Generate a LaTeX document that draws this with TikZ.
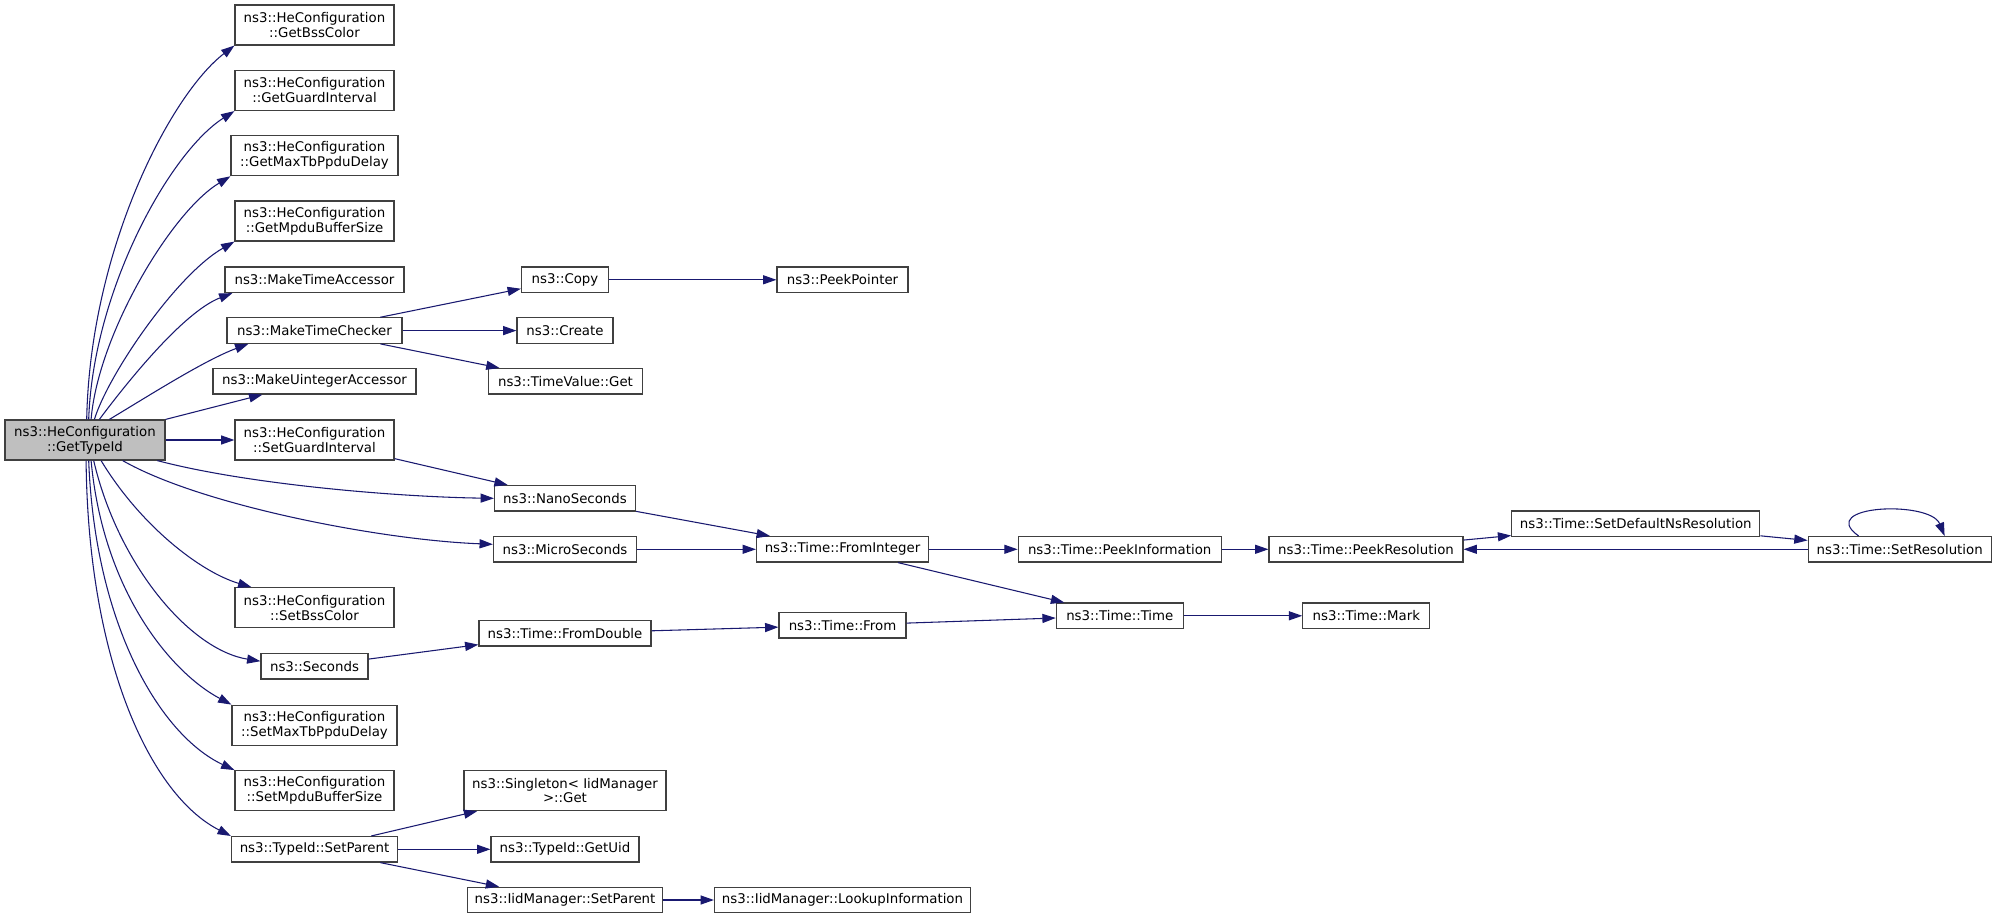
\documentclass[tikz,border=0pt]{standalone}
\usepackage{fontspec}
\setmainfont{DejaVu Sans}
\usetikzlibrary{arrows.meta,calc}
\definecolor{edgec}{HTML}{191970}
\definecolor{nodeb}{HTML}{404040}
\definecolor{rootf}{HTML}{BFBFBF}
\tikzset{
  fn/.style={draw=nodeb, line width=0.9pt, fill=white, inner sep=0pt,
    minimum height=19.1pt, align=center, font=\fontsize{10}{11.2}\selectfont},
  fn2/.style={fn, minimum height=30pt},
  bw/.style={minimum width=#1*0.75pt},
  call/.style={draw=edgec, line width=0.8pt, -{Triangle[length=10pt,width=6.8pt]}},
}
\begin{document}
\begin{tikzpicture}[x=0.75pt,y=-0.75pt]
\fill[white] (0,0) rectangle (1997,919);
\useasboundingbox (0,0) rectangle (1997,919);

% column 1
\node[fn2,fill=rootf,bw=160] (root) at (85,440) {ns3::HeConfiguration\\::GetTypeId};
% column 2
\node[fn2,bw=159] (getbss) at (314.5,25) {ns3::HeConfiguration\\::GetBssColor};
\node[fn2,bw=159] (getguard) at (314.5,90.5) {ns3::HeConfiguration\\::GetGuardInterval};
\node[fn2,bw=167] (getmaxtb) at (314.5,155.7) {ns3::HeConfiguration\\::GetMaxTbPpduDelay};
\node[fn2,bw=159] (getmpdu) at (314.5,221) {ns3::HeConfiguration\\::GetMpduBufferSize};
\node[fn,bw=179] (mta) at (314.5,279.8) {ns3::MakeTimeAccessor};
\node[fn,bw=175] (mtc) at (314.5,330.6) {ns3::MakeTimeChecker};
\node[fn,bw=203] (mua) at (314.5,381.3) {ns3::MakeUintegerAccessor};
\node[fn2,bw=159] (setguard) at (314.5,440) {ns3::HeConfiguration\\::SetGuardInterval};
\node[fn2,bw=159] (setbss) at (314.5,607.7) {ns3::HeConfiguration\\::SetBssColor};
\node[fn,bw=107] (seconds) at (314.5,666.2) {ns3::Seconds};
\node[fn2,bw=165] (setmaxtb) at (314.5,725.2) {ns3::HeConfiguration\\::SetMaxTbPpduDelay};
\node[fn2,bw=159] (setmpdu) at (314.5,790.7) {ns3::HeConfiguration\\::SetMpduBufferSize};
\node[fn,bw=166] (tsetparent) at (314.5,849.3) {ns3::TypeId::SetParent};
% column 3
\node[fn,bw=87] (copy) at (565,279.8) {ns3::Copy};
\node[fn,bw=96] (create) at (565,330.6) {ns3::Create};
\node[fn,bw=154] (tvget) at (565.5,381.3) {ns3::TimeValue::Get};
\node[fn,bw=141] (nano) at (565,498.3) {ns3::NanoSeconds};
\node[fn,bw=143] (micro) at (565,549.3) {ns3::MicroSeconds};
\node[fn,bw=172] (fromdouble) at (565,633.3) {ns3::Time::FromDouble};
\node[fn2,bw=202] (singleton) at (565,790.5) {ns3::Singleton< IidManager\\ >::Get};
\node[fn,bw=148] (getuid) at (565,849.3) {ns3::TypeId::GetUid};
\node[fn,bw=195] (isetparent) at (565,900) {ns3::IidManager::SetParent};
% column 4
\node[fn,bw=131] (peekpointer) at (842.5,279.8) {ns3::PeekPointer};
\node[fn,bw=172] (frominteger) at (842.5,549.3) {ns3::Time::FromInteger};
\node[fn,bw=127] (timefrom) at (842.5,625.3) {ns3::Time::From};
\node[fn,bw=256] (lookup) at (842.5,900) {ns3::IidManager::LookupInformation};
% column 5
\node[fn,bw=203] (peekinfo) at (1119.7,549.3) {ns3::Time::PeekInformation};
\node[fn,bw=127] (timetime) at (1119.8,615.8) {ns3::Time::Time};
% column 6
\node[fn,bw=194] (peekres) at (1366,549.3) {ns3::Time::PeekResolution};
\node[fn,bw=127] (mark) at (1366.3,615.8) {ns3::Time::Mark};
% column 7, 8
\node[fn,bw=248] (setdefns) at (1635.8,523.8) {ns3::Time::SetDefaultNsResolution};
\node[fn,bw=183] (setres) at (1899.7,549.3) {ns3::Time::SetResolution};

% curved calls from the root, upwards
\draw[call] ($(root.north west)+(82.3,0)$) .. controls (90,250) and (170,95) .. (getbss.south west);
\draw[call] ($(root.north west)+(84.3,0)$) .. controls (93,290) and (170,152) .. (getguard.south west);
\draw[call] ($(root.north west)+(86.7,0)$) .. controls (98,335) and (171,212) .. (getmaxtb.south west);
\draw[call] ($(root.north west)+(90,0)$) .. controls (108,375) and (176,275) .. (getmpdu.south west);
\draw[call] ($(root.north west)+(95,0)$) .. controls (125,385) and (183,312) .. ($(mta.south west)+(8,0)$);
\draw[call] ($(root.north west)+(105,0)$) .. controls (150,395) and (205,360) .. ($(mtc.south west)+(22,0)$);
\draw[call] (root) -- (mua);
\draw[call] (root) -- (setguard);
% curved calls from the root, downwards
\draw[call] ($(root.south east)+(-8.3,0)$) .. controls (250,485) and (400,497) .. (nano.west);
\draw[call] ($(root.south west)+(118.3,0)$) .. controls (200,505) and (380,540) .. ($(micro.west)+(0,-5)$);
\draw[call] ($(root.south west)+(96.7,0)$) .. controls (140,525) and (200,572) .. ($(setbss.north west)+(17,0)$);
\draw[call] ($(root.south west)+(89.3,0)$) .. controls (118,565) and (190,650) .. ($(seconds.west)+(0,-5)$);
\draw[call] ($(root.south west)+(86.7,0)$) .. controls (103,590) and (170,672) .. (setmaxtb.north west);
\draw[call] ($(root.south west)+(84.3,0)$) .. controls (95,625) and (160,735) .. (setmpdu.north west);
\draw[call] ($(root.south west)+(81.7,0)$) .. controls (88,660) and (150,795) .. (tsetparent.north west);

% straight calls
\draw[call] (mtc) -- (copy);
\draw[call] (mtc) -- (create);
\draw[call] (mtc) -- (tvget);
\draw[call] (copy) -- (peekpointer);
\draw[call] (setguard) -- (nano);
\draw[call] (nano) -- (frominteger);
\draw[call] (micro) -- (frominteger);
\draw[call] (seconds) -- (fromdouble);
\draw[call] (fromdouble) -- (timefrom);
\draw[call] (timefrom) -- (timetime);
\draw[call] (frominteger) -- (peekinfo);
\draw[call] (frominteger) -- (timetime);
\draw[call] (peekinfo) -- (peekres);
\draw[call] (peekres) -- (setdefns);
\draw[call] (setdefns) -- (setres);
\draw[call] (setres) -- (peekres);
\draw[call] (timetime) -- (mark);
\draw[call] (tsetparent) -- (singleton);
\draw[call] (tsetparent) -- (getuid);
\draw[call] (tsetparent) -- (isetparent);
\draw[call] (isetparent) -- (lookup);
% self call
\draw[call] ($(setres.north west)+(51,0)$) .. controls (1815,505) and (1930,500) .. ($(setres.north west)+(137,0)$);
\end{tikzpicture}
\end{document}
